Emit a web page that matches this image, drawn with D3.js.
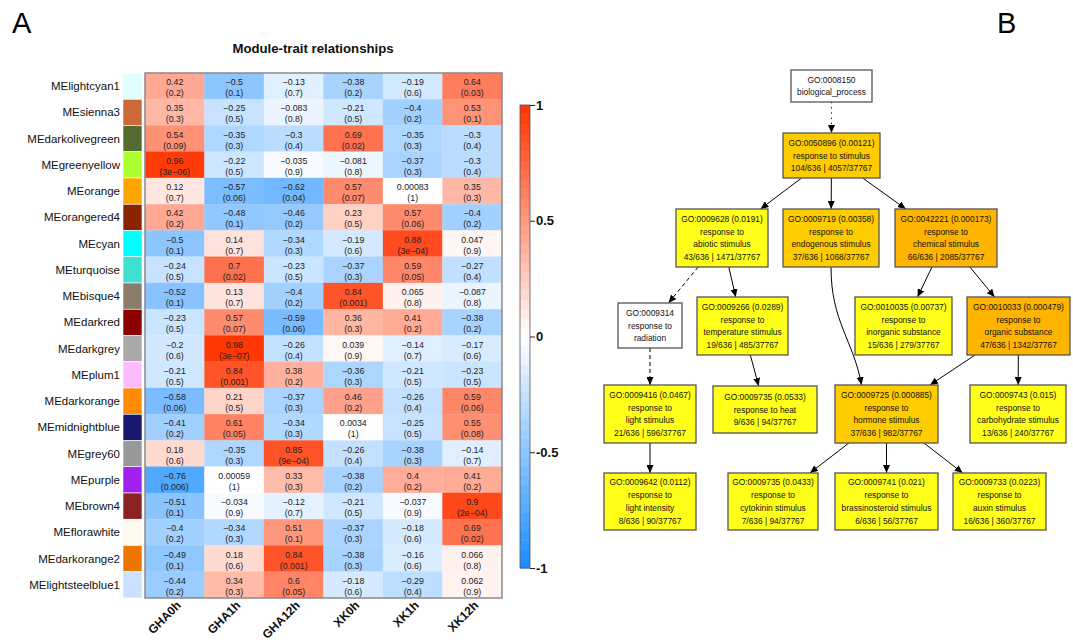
<!DOCTYPE html>
<html><head><meta charset="utf-8">
<script src="https://cdn.jsdelivr.net/npm/d3@7"></script>
<style>body{margin:0;background:#fff} svg{display:block;font-family:"Liberation Sans",Arial,sans-serif}</style>
</head><body><svg id="c" width="1073" height="644"></svg>
<script>
// ---------- Panel A data ----------
const modules = ["MElightcyan1","MEsienna3","MEdarkolivegreen","MEgreenyellow","MEorange","MEorangered4","MEcyan","MEturquoise","MEbisque4","MEdarkred","MEdarkgrey","MEplum1","MEdarkorange","MEmidnightblue","MEgrey60","MEpurple","MEbrown4","MEflorawhite","MEdarkorange2","MElightsteelblue1"];
const moduleColors = ["#E0FFFF","#CD6839","#556B2F","#ADFF2F","#FFA500","#8B2500","#00FFFF","#40E0D0","#8B7D6B","#8B0000","#A9A9A9","#FFBBFF","#FF8C00","#191970","#999999","#A020F0","#8B2323","#FFFAF0","#EE7600","#CAE1FF"];
const traits = ["GHA0h","GHA1h","GHA12h","XK0h","XK1h","XK12h"];
const corValues = [
 [0.42,-0.5,-0.13,-0.38,-0.19,0.64],
 [0.35,-0.25,-0.083,-0.21,-0.4,0.53],
 [0.54,-0.35,-0.3,0.69,-0.35,-0.3],
 [0.96,-0.22,-0.035,-0.081,-0.37,-0.3],
 [0.12,-0.57,-0.62,0.57,0.00083,0.35],
 [0.42,-0.48,-0.46,0.23,0.57,-0.4],
 [-0.5,0.14,-0.34,-0.19,0.88,0.047],
 [-0.24,0.7,-0.23,-0.37,0.59,-0.27],
 [-0.52,0.13,-0.4,0.84,0.065,-0.087],
 [-0.23,0.57,-0.59,0.36,0.41,-0.38],
 [-0.2,0.98,-0.26,0.039,-0.14,-0.17],
 [-0.21,0.84,0.38,-0.36,-0.21,-0.23],
 [-0.58,0.21,-0.37,0.46,-0.26,0.59],
 [-0.41,0.61,-0.34,0.0034,-0.25,0.55],
 [0.18,-0.35,0.85,-0.26,-0.38,-0.14],
 [-0.76,0.00059,0.33,-0.38,0.4,0.41],
 [-0.51,-0.034,-0.12,-0.21,-0.037,0.9],
 [-0.4,-0.34,0.51,-0.37,-0.18,0.69],
 [-0.49,0.18,0.84,-0.38,-0.16,0.066],
 [-0.44,0.34,0.6,-0.18,-0.29,0.062]
];
const pValues = [
 ["0.2","0.1","0.7","0.2","0.6","0.03"],
 ["0.3","0.5","0.8","0.5","0.2","0.1"],
 ["0.09","0.3","0.4","0.02","0.3","0.4"],
 ["3e-06","0.5","0.9","0.8","0.3","0.4"],
 ["0.7","0.06","0.04","0.07","1","0.3"],
 ["0.2","0.1","0.2","0.5","0.06","0.2"],
 ["0.1","0.7","0.3","0.6","3e-04","0.9"],
 ["0.5","0.02","0.5","0.3","0.05","0.4"],
 ["0.1","0.7","0.2","0.001","0.8","0.8"],
 ["0.5","0.07","0.06","0.3","0.2","0.2"],
 ["0.6","3e-07","0.4","0.9","0.7","0.6"],
 ["0.5","0.001","0.2","0.3","0.5","0.5"],
 ["0.06","0.5","0.3","0.2","0.4","0.06"],
 ["0.2","0.05","0.3","1","0.5","0.08"],
 ["0.6","0.3","9e-04","0.4","0.3","0.7"],
 ["0.006","1","0.3","0.2","0.2","0.2"],
 ["0.1","0.9","0.7","0.5","0.9","2e-04"],
 ["0.2","0.3","0.1","0.3","0.6","0.02"],
 ["0.1","0.6","0.001","0.3","0.6","0.8"],
 ["0.2","0.3","0.05","0.6","0.4","0.9"]
];
const colorbarTicks = [-1,-0.5,0,0.5,1];

// ---------- Panel B data ----------
const goTerms = [
 {key:"n0", go:"GO:0008150", p:null, name:["biological_process"], count:null},
 {key:"n1", go:"GO:0050896", p:"0.00121", name:["response to stimulus"], count:"104/636 | 4057/37767"},
 {key:"n2", go:"GO:0009628", p:"0.0191", name:["response to","abiotic stimulus"], count:"43/636 | 1471/37767"},
 {key:"n3", go:"GO:0009719", p:"0.00358", name:["response to","endogenous stimulus"], count:"37/636 | 1068/37767"},
 {key:"n4", go:"GO:0042221", p:"0.000173", name:["response to","chemical stimulus"], count:"66/636 | 2085/37767"},
 {key:"n5", go:"GO:0009314", p:null, name:["response to","radiation"], count:null},
 {key:"n6", go:"GO:0009266", p:"0.0289", name:["response to","temperature stimulus"], count:"19/636 | 485/37767"},
 {key:"n7", go:"GO:0010035", p:"0.00737", name:["response to","inorganic substance"], count:"15/636 | 279/37767"},
 {key:"n8", go:"GO:0010033", p:"0.000479", name:["response to","organic substance"], count:"47/636 | 1342/37767"},
 {key:"n9", go:"GO:0009416", p:"0.0467", name:["response to","light stimulus"], count:"21/636 | 596/37767"},
 {key:"n10", go:"GO:0009735", p:"0.0533", name:["response to heat"], count:"9/636 | 94/37767"},
 {key:"n11", go:"GO:0009725", p:"0.000885", name:["response to","hormone stimulus"], count:"37/636 | 982/37767"},
 {key:"n12", go:"GO:0009743", p:"0.015", name:["response to","carbohydrate stimulus"], count:"13/636 | 240/37767"},
 {key:"n13", go:"GO:0009642", p:"0.0112", name:["response to","light intensity"], count:"8/636 | 90/37767"},
 {key:"n14", go:"GO:0009735", p:"0.0433", name:["response to","cytokinin stimulus"], count:"7/636 | 94/37767"},
 {key:"n15", go:"GO:0009741", p:"0.021", name:["response to","brassinosteroid stimulus"], count:"6/636 | 56/37767"},
 {key:"n16", go:"GO:0009733", p:"0.0223", name:["response to","auxin stimulus"], count:"16/636 | 360/37767"}
];
const goEdges = [
 ["n0","n1","dotted"],["n1","n2","solid"],["n1","n3","solid"],["n1","n4","solid"],
 ["n2","n5","dashed"],["n2","n6","solid"],["n3","n11","curve"],["n4","n7","solid"],["n4","n8","solid"],
 ["n5","n9","dashed"],["n6","n10","solid"],["n8","n11","solid"],["n8","n12","solid"],
 ["n9","n13","solid"],["n11","n14","solid"],["n11","n15","solid"],["n11","n16","solid"]
];

// ---------- layout (not data) ----------
const goLayout = {
 n0:[791,70,872,102], n1:[783,133,880,178],
 n2:[676,209,768,267], n3:[783,209,879,267], n4:[895,209,997,267],
 n5:[618,303,682,348], n6:[697,297,788,355], n7:[855,297,952,355], n8:[967,297,1070,355],
 n9:[604,385,696,443], n10:[713,386,817,433], n11:[835,385,938,443], n12:[970,385,1066,443],
 n13:[604,473,696,530], n14:[728,473,818,530], n15:[835,473,938,530], n16:[953,473,1046,530]
};

const svg = d3.select("#c");
svg.append("rect").attr("width",1073).attr("height",644).attr("fill","#fff");

// Panel labels
svg.append("text").attr("x",12).attr("y",33).attr("font-size",29).text("A");
svg.append("text").attr("x",997).attr("y",33).attr("font-size",29).text("B");

// ---------- Heatmap ----------
const x = d3.scaleBand().domain(traits).range([145,502]);
const y = d3.scaleBand().domain(modules).range([73,598]);
const color = d3.scaleLinear().domain([-1,0,1]).range(["#1a8cff","#ffffff","#ff3300"]).interpolate(d3.interpolateRgb);
const fmt = v => String(v).replace("-","\u2212");

svg.append("text").attr("x",313).attr("y",53).attr("text-anchor","middle")
  .attr("font-size",13.2).attr("font-weight","bold").attr("fill","#111").text("Module-trait relationships");

const cells = [];
modules.forEach((m,i)=>traits.forEach((t,j)=>cells.push({m,t,v:corValues[i][j],p:pValues[i][j]})));

const g = svg.append("g");
g.selectAll("rect.cell").data(cells).join("rect").attr("class","cell")
  .attr("x",d=>x(d.t)).attr("y",d=>y(d.m)).attr("width",x.bandwidth()).attr("height",y.bandwidth())
  .attr("fill",d=>color(d.v)).attr("stroke",d=>color(d.v)).attr("stroke-width",0.3);
const tg = g.selectAll("text.cell").data(cells).join("text").attr("class","cell")
  .attr("text-anchor","middle").attr("font-size",8.8).attr("fill","#222");
tg.append("tspan").attr("x",d=>x(d.t)+x.bandwidth()/2).attr("y",d=>y(d.m)+y.bandwidth()/2-1).text(d=>fmt(d.v));
tg.append("tspan").attr("x",d=>x(d.t)+x.bandwidth()/2).attr("y",d=>y(d.m)+y.bandwidth()/2+10).text(d=>"("+fmt(d.p)+")");

g.append("rect").attr("x",145).attr("y",73).attr("width",357).attr("height",525)
  .attr("fill","none").attr("stroke","#8a8a8a").attr("stroke-width",1.5);

// module colour strip
svg.selectAll("rect.mod").data(modules).join("rect").attr("class","mod")
  .attr("x",123).attr("y",d=>y(d)).attr("width",19).attr("height",y.bandwidth())
  .attr("fill",(d,i)=>moduleColors[i]).attr("stroke","#fff").attr("stroke-width",0.6);

// row labels
svg.selectAll("text.row").data(modules).join("text").attr("class","row")
  .attr("x",120).attr("y",d=>y(d)+y.bandwidth()/2+4).attr("text-anchor","end")
  .attr("font-size",11.5).attr("fill","#111").text(d=>d);

// column labels
svg.selectAll("text.col").data(traits).join("text").attr("class","col")
  .attr("transform",d=>`translate(${x(d)+x.bandwidth()/2+7},${606}) rotate(-45)`)
  .attr("text-anchor","end").attr("font-size",12).attr("font-weight","bold").attr("fill","#111").text(d=>d);

// colour bar
const cy = d3.scaleLinear().domain([-1,1]).range([568,105]);
const steps = d3.range(-1,1,0.04);
svg.selectAll("rect.cb").data(steps).join("rect").attr("class","cb")
  .attr("x",520).attr("width",10).attr("y",d=>cy(d+0.04)).attr("height",d=>cy(d)-cy(d+0.04)+0.5)
  .attr("fill",d=>color(d+0.02));
svg.append("rect").attr("x",520).attr("y",105).attr("width",10).attr("height",463)
  .attr("fill","none").attr("stroke","#555").attr("stroke-width",0.8);
const axis = d3.axisRight(cy).tickValues(colorbarTicks).tickSize(5).tickPadding(1)
  .tickFormat(d=>String(d));
const ag = svg.append("g").attr("transform","translate(530,0)").call(axis);
ag.select(".domain").remove();
ag.selectAll("line").attr("stroke","#222");
ag.selectAll("text").attr("font-size",13).attr("font-weight","bold").attr("fill","#111")
  .attr("font-family","'Liberation Sans',Arial,sans-serif");

// ---------- GO graph ----------
const fillScale = d3.scaleThreshold().domain([0.0005,0.005]).range(["#ffb400","#ffcc00","#ffff1a"]);
const defs = svg.append("defs");
defs.append("marker").attr("id","arr").attr("viewBox","0 0 8 7").attr("refX",8).attr("refY",3.5)
  .attr("markerWidth",8).attr("markerHeight",7).attr("markerUnits","userSpaceOnUse").attr("orient","auto")
  .append("path").attr("d","M0,0L8,3.5L0,7Z").attr("fill","#000");

const box = k => { const b=goLayout[k]; return {x0:b[0],y0:b[1],x1:b[2],y1:b[3],cx:(b[0]+b[2])/2,cy:(b[1]+b[3])/2,hw:(b[2]-b[0])/2,hh:(b[3]-b[1])/2}; };
function clip(b, dx, dy){
  const tx = dx===0?Infinity:b.hw/Math.abs(dx), ty = dy===0?Infinity:b.hh/Math.abs(dy);
  const t=Math.min(tx,ty); return [b.cx+dx*t, b.cy+dy*t];
}
const eg = svg.append("g");
goEdges.forEach(([s,t,st])=>{
  const a=box(s), b=box(t);
  let d;
  if(st==="curve"){
    const sx=a.cx, sy=a.y1, ex=b.cx-25, ey=b.y0;
    d=`M${sx},${sy}C${sx},${sy+55} ${ex-8},${ey-45} ${ex},${ey}`;
  } else {
    const dx=b.cx-a.cx, dy=b.cy-a.cy;
    const p1=clip(a,dx,dy), p2=clip(b,-dx,-dy);
    d=`M${p1[0]},${p1[1]}L${p2[0]},${p2[1]}`;
  }
  eg.append("path").attr("d",d).attr("fill","none").attr("stroke","#000").attr("stroke-width",1)
    .attr("stroke-dasharray",st==="dotted"?"1.2,4":st==="dashed"?"4,3":null)
    .attr("marker-end","url(#arr)");
});

const ng = svg.append("g").selectAll("g").data(goTerms).join("g");
ng.append("rect")
  .attr("x",d=>goLayout[d.key][0]).attr("y",d=>goLayout[d.key][1])
  .attr("width",d=>goLayout[d.key][2]-goLayout[d.key][0]).attr("height",d=>goLayout[d.key][3]-goLayout[d.key][1])
  .attr("fill",d=>d.p===null?"#ffffff":fillScale(+d.p)).attr("stroke","#555").attr("stroke-width",1.3);
ng.each(function(d){
  const lines=[d.p===null?d.go:`${d.go} (${d.p})`, ...d.name]; if(d.count) lines.push(d.count);
  const b=box(d.key), lh=12.7, n=lines.length;
  d3.select(this).selectAll("text").data(lines).join("text")
    .attr("x",b.cx).attr("y",(l,i)=>b.cy+(i-(n-1)/2)*lh+3)
    .attr("text-anchor","middle").attr("font-size",8.4).attr("fill","#111").text(l=>l);
});
</script></body></html>
